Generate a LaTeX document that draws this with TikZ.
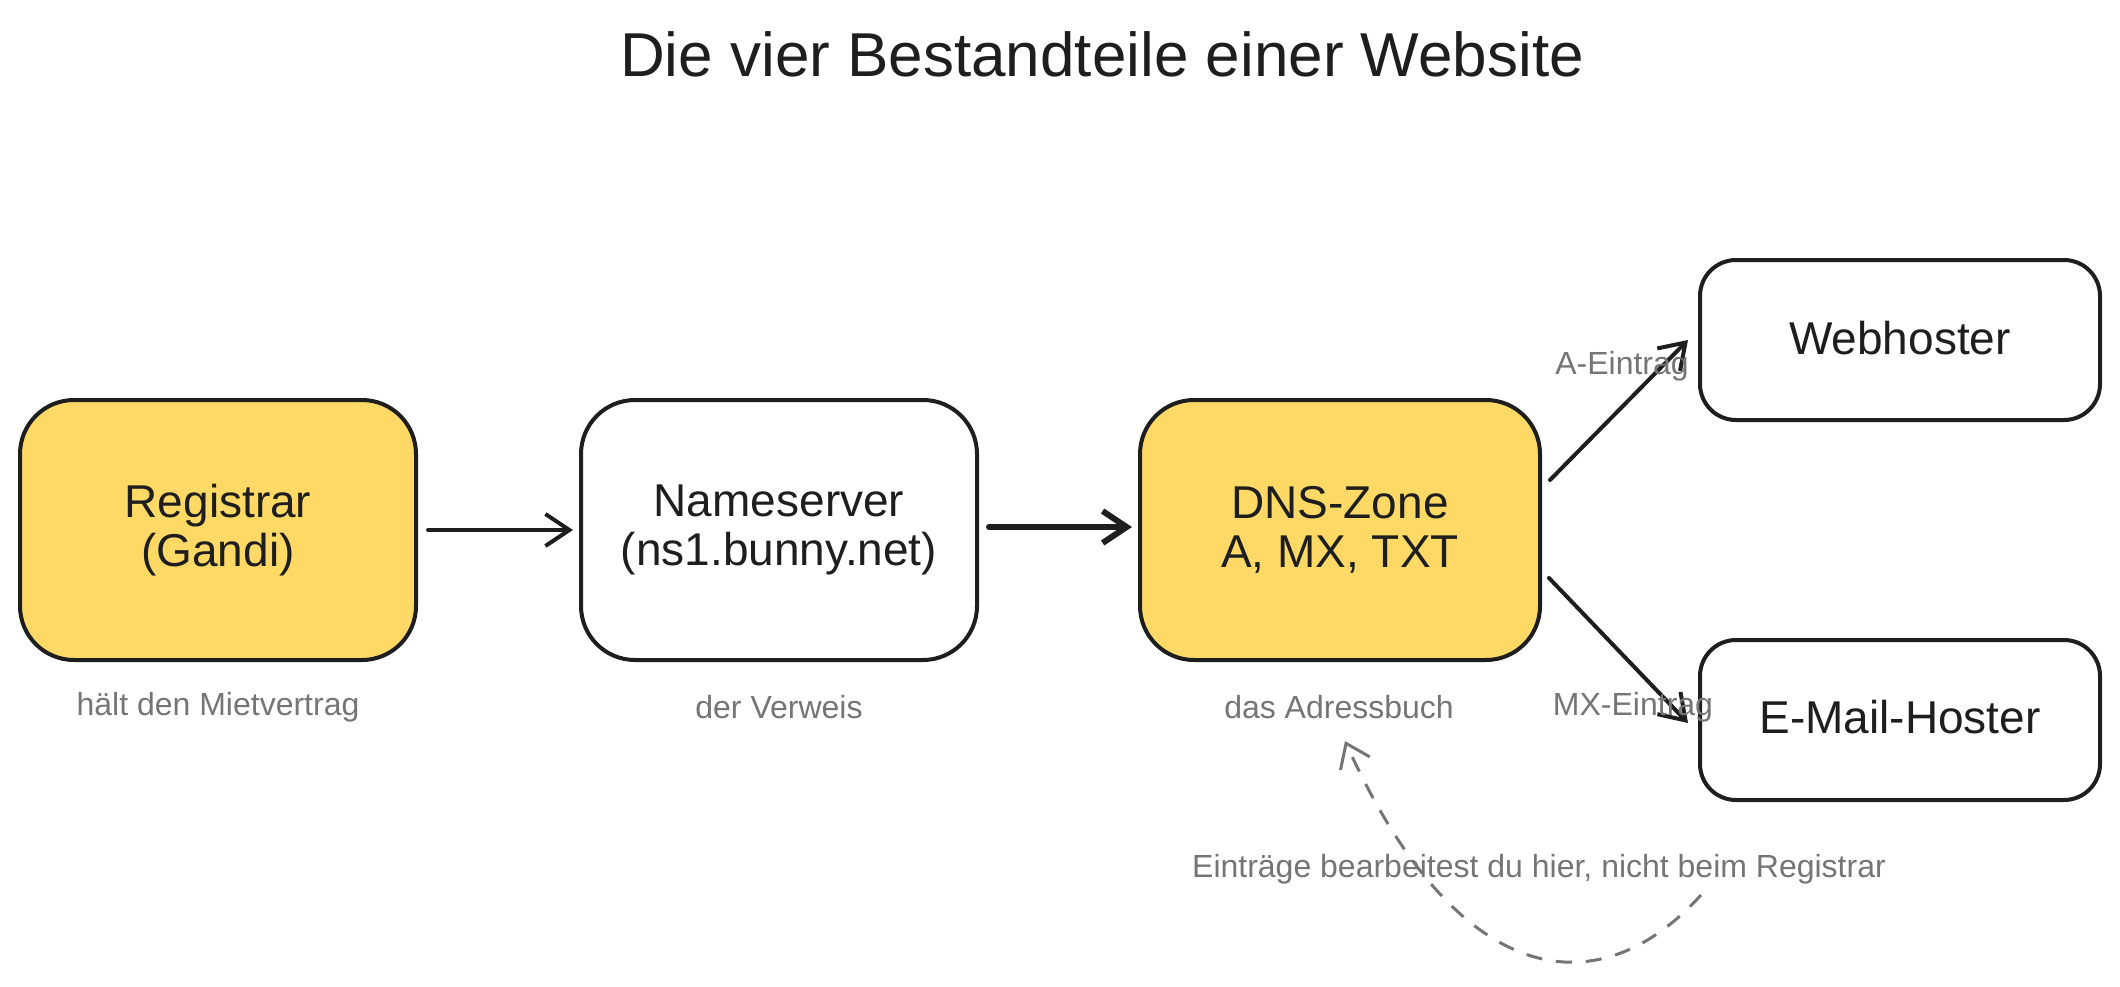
\documentclass[tikz,border=0pt]{standalone}
\usepackage{fontspec}
\setmainfont{Liberation Sans}
\usetikzlibrary{arrows.meta}
\definecolor{ink}{HTML}{1E1E1E}
\definecolor{fillY}{HTML}{FFD966}
\definecolor{note}{HTML}{757575}
\begin{document}
\begin{tikzpicture}[x=0.5pt,y=-0.5pt,
  box/.style={draw=ink, line width=2pt, align=center, text=ink,
    font=\fontsize{23}{24.5}\selectfont, inner sep=0pt},
  bigbox/.style={box, rounded corners=27pt, minimum width=198pt, minimum height=130pt},
  smallbox/.style={box, rounded corners=18pt, minimum width=200pt, minimum height=80pt},
  sub/.style={text=note, font=\fontsize{16}{19}\selectfont, inner sep=0pt},
  conn/.style={draw=ink, line width=2pt, line cap=round,
    -{Straight Barb[length=12pt,width=16pt,line width=2pt]}},
  thickconn/.style={conn, line width=3pt,
    -{Straight Barb[length=12pt,width=16pt,line width=3pt]}},
  dashnote/.style={draw=note, line width=1.5pt, dash pattern=on 8pt off 7pt,
    -{Straight Barb[length=11pt,width=16pt,line width=1.5pt]}}
]
\useasboundingbox (0,0) rectangle (2120,986);
\node[text=ink, font=\fontsize{31}{36}\selectfont] (title) at (1102,54) {Die vier Bestandteile einer Website};

\node[bigbox, fill=fillY] (reg) at (218,530) {Registrar\\(Gandi)};
\node[bigbox, fill=white] (ns) at (779,530) {Nameserver\\(ns1.bunny.net)};
\node[bigbox, fill=fillY, minimum width=200pt] (dns) at (1340,530) {DNS-Zone\\A, MX, TXT};
\node[smallbox, fill=white] (web) at (1900,340) {\raisebox{2.5pt}{Webhoster}};
\node[smallbox, fill=white] (mail) at (1900,720) {\raisebox{3pt}{E-Mail-Hoster}};

\node[sub] (l1) at (218,707) {hält den Mietvertrag};
\node[sub] (l2) at (779,707) {der Verweis};
\node[sub] (l3) at (1339,707) {das Adressbuch};

\draw[conn] ([xshift=5pt]reg.east) -- ([xshift=-3pt]ns.west);
\draw[thickconn] ([xshift=5pt,yshift=1.5pt]ns.east) -- ([xshift=-3pt,yshift=1.5pt]dns.west);
\draw[conn] ([xshift=4pt,yshift=25pt]dns.east) -- ([xshift=-5pt]web.west);
\draw[conn] ([xshift=3.5pt,yshift=-24pt]dns.east) -- ([xshift=-5pt,yshift=-1.5pt]mail.west);

\node[sub] (ta) at (1622,366) {A-Eintrag};
\node[sub] (tm) at (1633,707) {MX-Eintrag};

\coordinate (dstart) at (1701,895);
\coordinate (dtip) at (1345,741);
\draw[dashnote] (dstart) .. controls (1595,1012) and (1455,985) .. (dtip);
\node[sub] (hint) at (1539,869) {Einträge bearbeitest du hier, nicht beim Registrar};
\end{tikzpicture}
\end{document}
